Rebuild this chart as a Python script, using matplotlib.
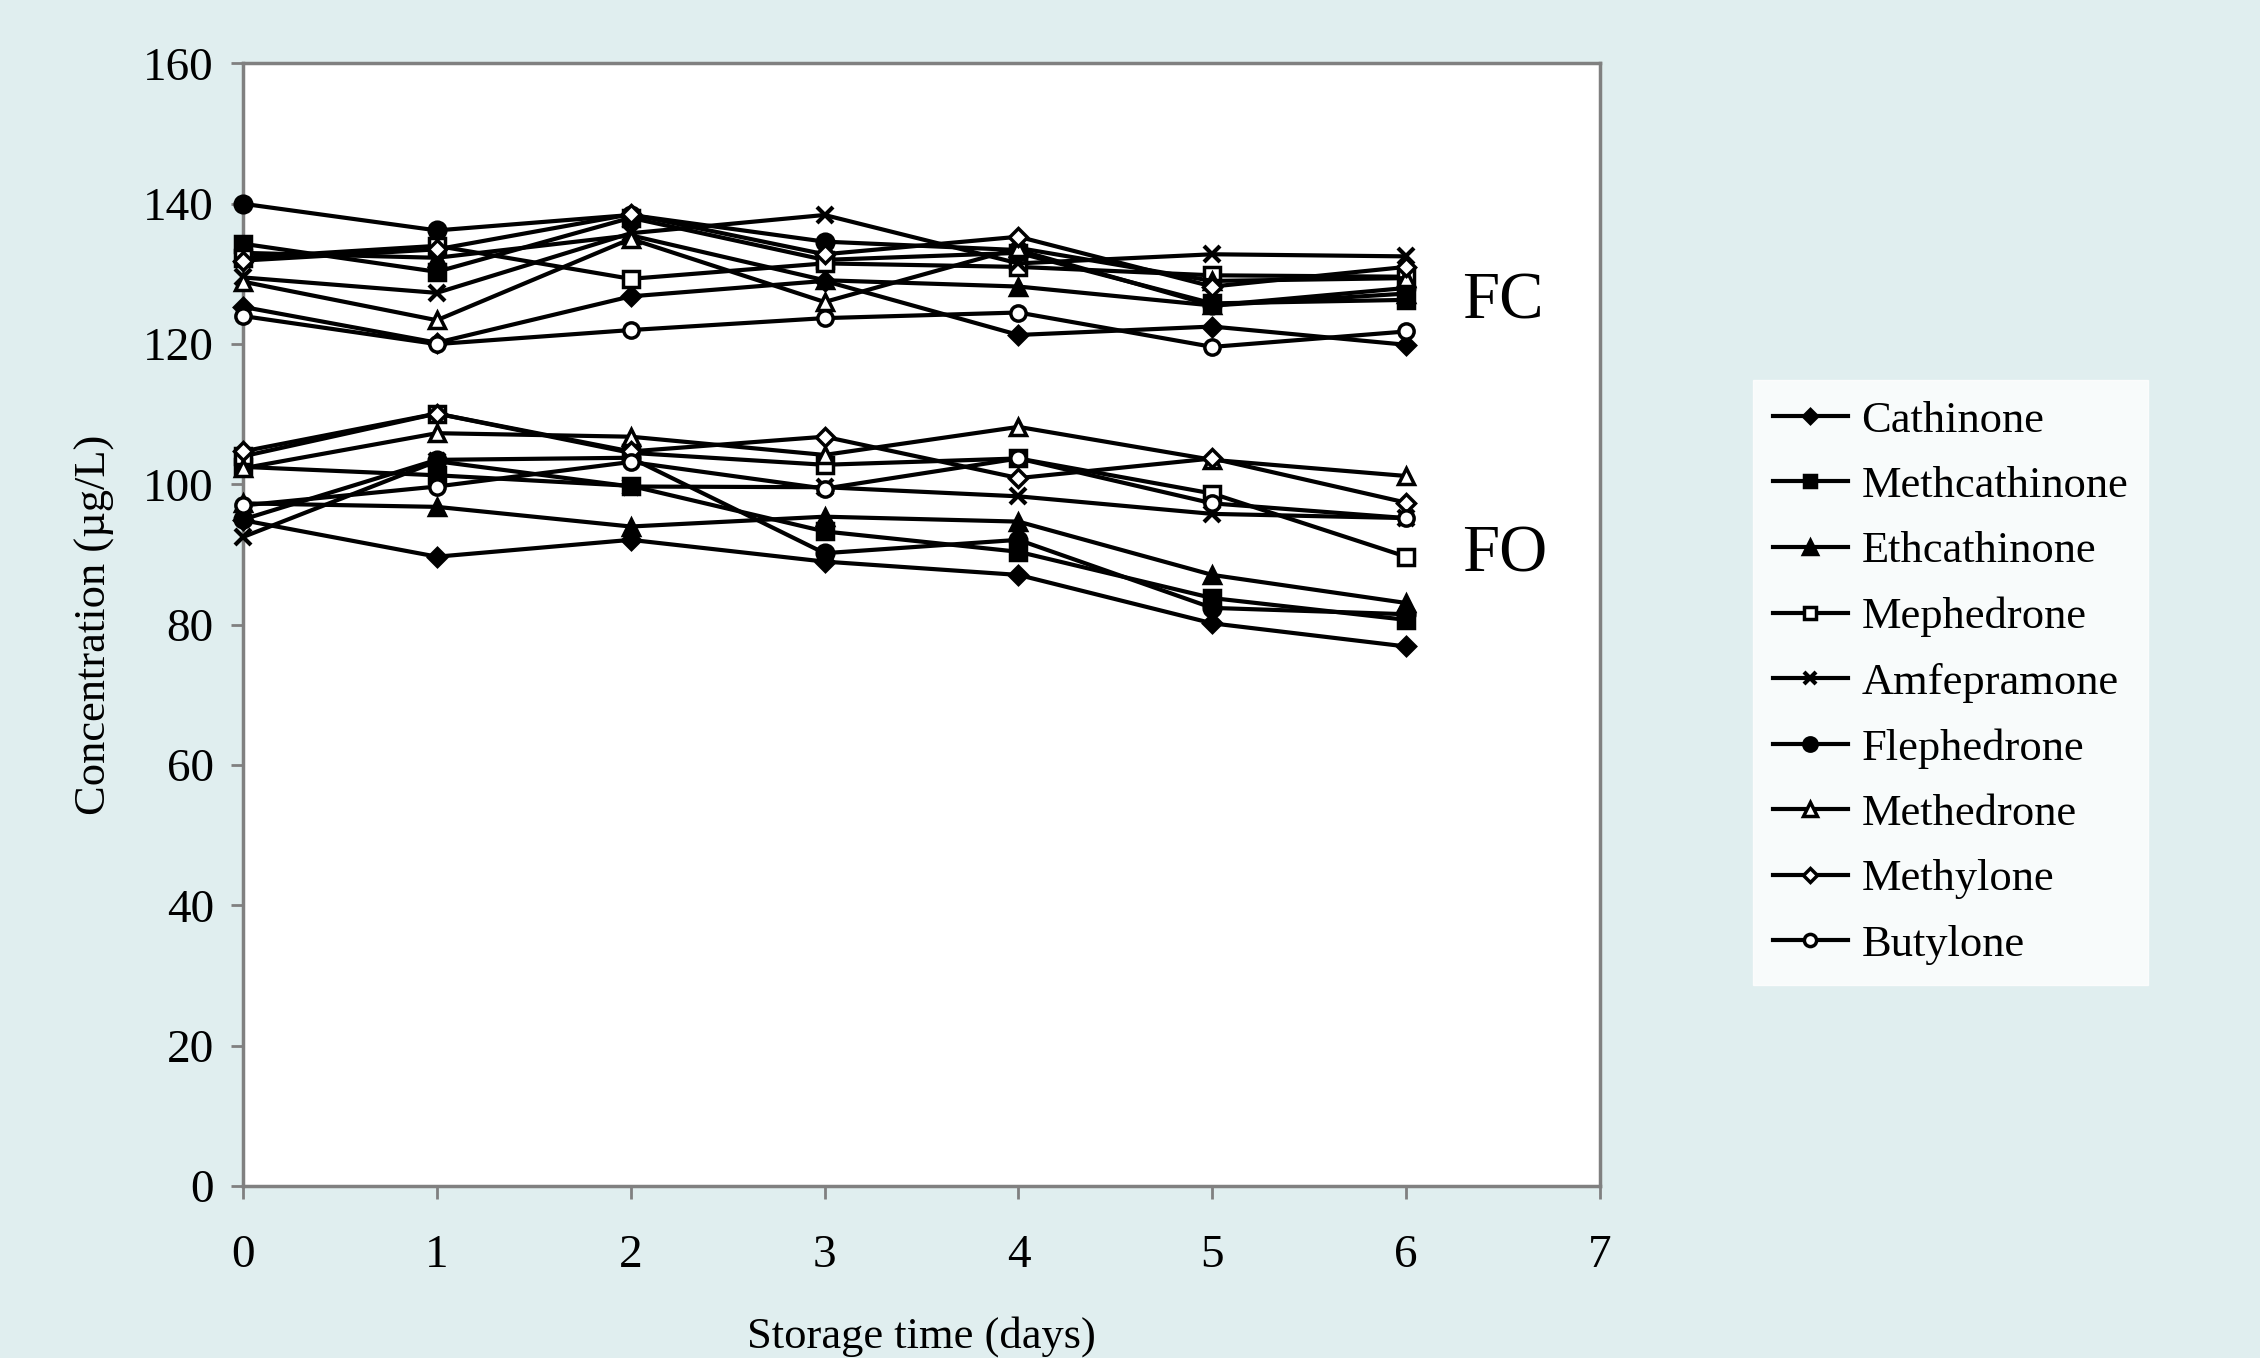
import matplotlib
matplotlib.use("Agg")
import matplotlib.pyplot as plt

days = [0, 1, 2, 3, 4, 5, 6]
compounds = ["Cathinone", "Methcathinone", "Ethcathinone", "Mephedrone", "Amfepramone",
             "Flephedrone", "Methedrone", "Methylone", "Butylone"]

# FC series
fc_cathinone     = [125.3, 120.2, 126.8, 129.0, 121.3, 122.5, 119.9]
fc_methcathinone = [134.3, 130.3, 138.0, 132.0, 133.0, 125.8, 126.3]
fc_ethcathinone  = [133.0, 132.3, 135.5, 129.1, 128.2, 125.5, 127.2]
fc_mephedrone    = [132.3, 134.0, 129.3, 131.5, 131.0, 129.8, 129.6]
fc_amfepramone   = [129.5, 127.3, 135.8, 138.4, 131.5, 132.8, 132.5]
fc_flephedrone   = [140.0, 136.2, 138.4, 134.6, 133.4, 125.5, 128.0]
fc_methedrone    = [128.9, 123.4, 135.0, 126.0, 133.7, 129.0, 129.4]
fc_methylone     = [131.9, 133.5, 138.5, 132.8, 135.3, 128.2, 131.0]
fc_butylone      = [124.0, 120.0, 122.0, 123.7, 124.5, 119.6, 121.8]

# FO series
fo_cathinone     = [94.9, 89.7, 92.1, 89.0, 87.1, 80.2, 76.9]
fo_methcathinone = [102.5, 101.3, 99.8, 93.3, 90.4, 83.8, 80.7]
fo_ethcathinone  = [97.3, 96.8, 94.0, 95.4, 94.7, 87.1, 83.1]
fo_mephedrone    = [104.0, 110.1, 104.5, 102.8, 103.7, 98.7, 89.7]
fo_amfepramone   = [92.5, 103.3, 99.7, 99.6, 98.3, 95.8, 95.2]
fo_flephedrone   = [95.0, 103.5, 103.8, 90.2, 92.1, 82.4, 81.5]
fo_methedrone    = [102.3, 107.3, 106.8, 104.2, 108.2, 103.5, 101.2]
fo_methylone     = [104.7, 110.1, 104.7, 106.8, 100.9, 103.7, 97.4]
fo_butylone      = [97.0, 99.7, 103.2, 99.4, 103.7, 97.3, 95.2]

fc_data = [fc_cathinone, fc_methcathinone, fc_ethcathinone, fc_mephedrone, fc_amfepramone,
           fc_flephedrone, fc_methedrone, fc_methylone, fc_butylone]
fo_data = [fo_cathinone, fo_methcathinone, fo_ethcathinone, fo_mephedrone, fo_amfepramone,
           fo_flephedrone, fo_methedrone, fo_methylone, fo_butylone]

x_ticks = [0, 1, 2, 3, 4, 5, 6, 7]
y_ticks = [0, 20, 40, 60, 80, 100, 120, 140, 160]

styles = [
    dict(marker="D", mfc="black", ms=9),
    dict(marker="s", mfc="black", ms=11),
    dict(marker="^", mfc="black", ms=12),
    dict(marker="s", mfc="white", ms=11),
    dict(marker="x", mfc="black", ms=11),
    dict(marker="o", mfc="black", ms=12),
    dict(marker="^", mfc="white", ms=12),
    dict(marker="D", mfc="white", ms=9),
    dict(marker="o", mfc="white", ms=11),
]

plt.rcParams["font.family"] = ["Liberation Serif", "DejaVu Serif"]
bg = "#E0EEEF"
grey = "#808080"

fig = plt.figure(figsize=(22.6, 13.58), dpi=100, facecolor=bg)
ax = fig.add_axes([0.1075, 0.1266, 0.6005, 0.8267])
ax.set_facecolor("white")

handles = []
for name, st, fc, fo in zip(compounds, styles, fc_data, fo_data):
    kw = dict(color="black", lw=3, marker=st["marker"], markersize=st["ms"],
              markerfacecolor=st["mfc"], markeredgecolor="black",
              markeredgewidth=3 if st["marker"] == "x" else 2.5, clip_on=False, zorder=3)
    h, = ax.plot(days, fc, label=name, **kw)
    ax.plot(days, fo, **kw)
    handles.append(h)

ax.set_xlim(0, 7)
ax.set_ylim(0, 160)
ax.set_xticks(x_ticks)
ax.set_yticks(y_ticks)
ax.tick_params(axis="y", direction="out", length=9, width=2, color=grey,
               labelsize=34, pad=12)
ax.tick_params(axis="x", direction="out", length=9, width=2, color=grey,
               labelsize=34, pad=26)
for s in ax.spines.values():
    s.set_color(grey)
    s.set_linewidth(2.5)

ax.set_xlabel("Storage time (days)", fontsize=32, labelpad=28)
ax.set_ylabel("Concentration (µg/L)", fontsize=32, labelpad=20)

ax.text(6.29, 126.0, "FC", fontsize=48, va="center", ha="left")
ax.text(6.29, 90.0, "FO", fontsize=48, va="center", ha="left")

leg = fig.legend(handles=handles, loc="center left", bbox_to_anchor=(0.7755, 0.4973),
                 fontsize=32, frameon=True, fancybox=False, handlelength=1.7,
                 handletextpad=0.3, labelspacing=0.57, borderpad=0.45,
                 borderaxespad=0.0, markerscale=0.8)
leg.get_frame().set_facecolor("white")
leg.get_frame().set_edgecolor("white")

fig.savefig("out.png", dpi=100, facecolor=bg)
